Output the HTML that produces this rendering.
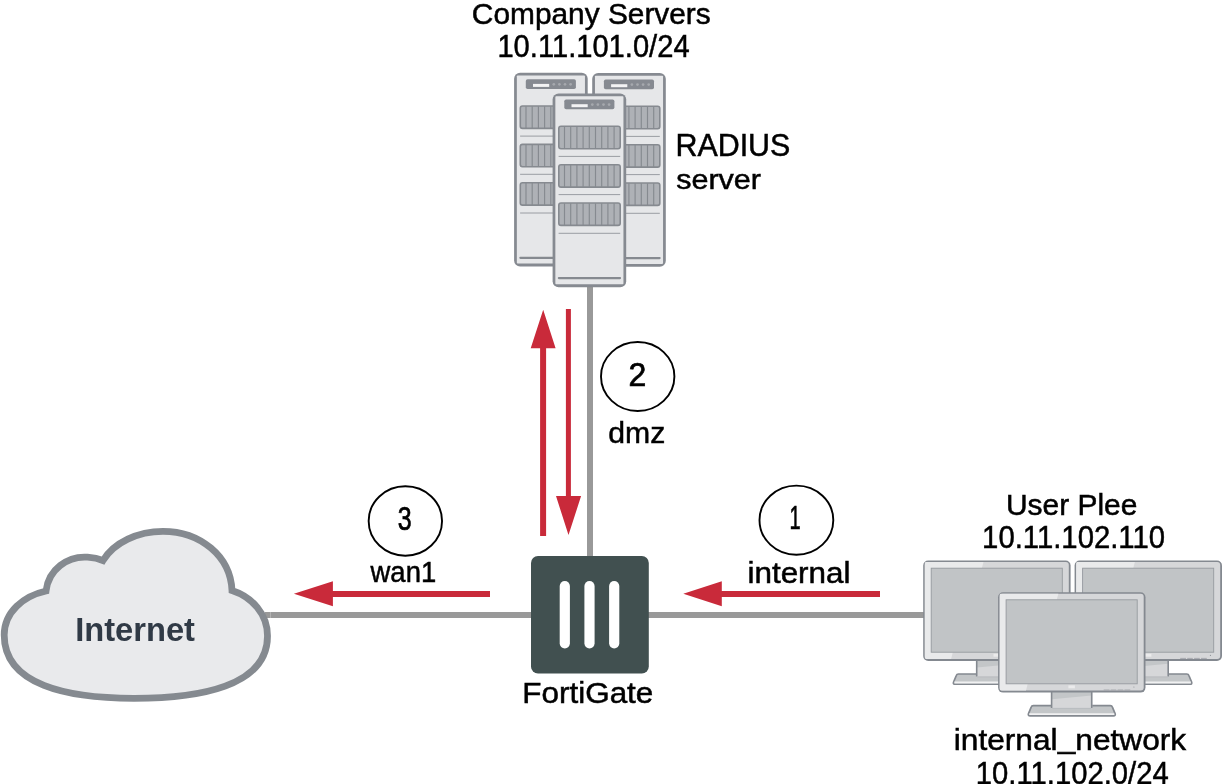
<!DOCTYPE html>
<html lang="en">
<head>
<meta charset="utf-8">
<title>FortiGate RADIUS network diagram</title>
<style>
html,body{margin:0;padding:0;background:#fff;overflow:hidden}
svg{display:block;will-change:transform}
text{font-family:"Liberation Sans",sans-serif;fill:#000}
.lbl{stroke:#000;stroke-width:0.5px}
.a{font-size:31px}
.b{font-size:29.2px}
.c{font-size:27.8px}
.n{font-size:32.6px;stroke-width:0.7px}
</style>
</head>
<body>
<svg width="1222" height="784" viewBox="0 0 1222 784">
<defs>
  <g id="bay">
    <rect x="0.8" y="0.8" width="61.4" height="22.4" rx="2.2" fill="#aeb1b6" stroke="#868a90" stroke-width="1.6"/>
    <path d="M6.5 1V23M12.7 1V23M18.9 1V23M25.1 1V23M31.3 1V23M37.5 1V23M43.7 1V23M49.9 1V23M56.1 1V23" stroke="#868a90" stroke-width="1.15" fill="none"/>
  </g>
  <g id="srvbox">
    <rect x="0" y="0" width="73.6" height="193.8" rx="6" fill="#868a91"/>
    <rect x="2.75" y="2.8" width="68.1" height="188.1" rx="0.8" fill="#e6e7e9"/>
  </g>
  <g id="server">
    <rect x="11.7" y="6.4" width="50.1" height="9.8" rx="1.8" fill="#868a91"/>
    <rect x="18.9" y="11.1" width="16.2" height="3" fill="#f3f3f4"/>
    <circle cx="39.7" cy="11.5" r="1.35" fill="#a6a9ae"/>
    <circle cx="45.3" cy="11.5" r="1.35" fill="#a6a9ae"/>
    <circle cx="50.9" cy="11.5" r="1.35" fill="#a6a9ae"/>
    <circle cx="56.5" cy="11.5" r="1.35" fill="#a6a9ae"/>
    <use href="#bay" x="5.4" y="32.4"/>
    <use href="#bay" x="5.4" y="70.8"/>
    <use href="#bay" x="5.4" y="109.1"/>
    <path d="M6 63.3H67.6M6 101.5H67.6M6 140.2H67.6" stroke="#868a90" stroke-width="0.8" fill="none"/>
    <path d="M6.3 185H67.4" stroke="#868a90" stroke-width="2.3" stroke-linecap="round" fill="none"/>
  </g>
  <g id="monitor">
    <path d="M35.2 113.4H112.2Q113.8 113.4 114.3 114.9L117 121.4Q117.8 123.6 115.4 123.6H32Q29.6 123.6 30.4 121.4L33.1 114.9Q33.6 113.4 35.2 113.4Z" fill="#c3c6c8" stroke="#848990" stroke-width="1.7"/>
    <path d="M31.2 121H116.2V122.8H31.2Z" fill="#f1f1f2"/>
    <path d="M53.1 99.5H94.2V115Q94.2 116.4 92.8 116.4H54.5Q53.1 116.4 53.1 115Z" fill="#d6d7d9"/>
    <path d="M53.7 99.8H93.5V103.2L53.7 107Z" fill="#c3c6c8"/>
    <path d="M53.5 99.5V115.9M93.6 99.5V115.9" stroke="#848990" stroke-width="1.6" fill="none"/>
    <path d="M54 116.2H93.2" stroke="#b4b7ba" stroke-width="0.8" fill="none"/>
    <rect x="0" y="0" width="147.4" height="100.4" rx="5" fill="#848990"/>
    <rect x="1.6" y="1.5" width="144" height="96.8" rx="3" fill="#d6d7d9"/>
    <path d="M3 1.5H60.3L58.6 7.6H8V91.6H29.6L27.9 98.3H3Q1.6 98.3 1.6 96.9V2.9Q1.6 1.5 3 1.5Z" fill="#e9eaeb"/>
    <rect x="8" y="7.6" width="131.1" height="84" fill="#c1c4c6" stroke="#969a9f" stroke-width="0.9"/>
    <rect x="70.3" y="93.2" width="6.5" height="2.9" fill="#ebebec"/>
    <path d="M105.6 97.8H111.4M112.6 97.8H118.2M119.5 97.8H125.2M126.4 97.8H132.2" stroke="#a0a3a8" stroke-width="0.9" fill="none"/>
    <circle cx="135.8" cy="94.8" r="0.55" fill="#8d9196"/>
  </g>
</defs>

<!-- connection lines -->
<path d="M590 280V560" stroke="#999" stroke-width="6" fill="none"/>
<path d="M265 615H930" stroke="#999" stroke-width="5.8" fill="none"/>
<rect x="270.1" y="612" width="0.6" height="6" fill="#c6c6c6"/>

<!-- company servers -->
<use href="#srvbox" x="514.1" y="72.7"/>
<use href="#server" x="514.1" y="72.8"/>
<use href="#srvbox" x="592.2" y="73"/>
<use href="#server" x="592.2" y="73.1"/>
<use href="#srvbox" x="552.6" y="93.4"/>
<use href="#server" x="552.6" y="93.1"/>

<!-- traffic arrows -->
<g fill="#c92a3a">
  <path d="M540.1 536V348.2H530.7L543.2 309.8L555.6 348.2H546.1V536Z"/>
  <path d="M565.9 309H570.9V496H581.1L568.5 535.1L556 496H565.9Z"/>
  <path d="M490 591V596.9H332.9V606.2L293.9 593.8L332.9 581.3V591Z"/>
  <path d="M880 591V596.9H721.8V606.2L683.3 593.8L721.8 581.3V591Z"/>
</g>

<!-- FortiGate unit -->
<rect x="531" y="556" width="117.8" height="117.6" rx="7" fill="#415050"/>
<g fill="#fff">
  <rect x="559.7" y="580.9" width="10.2" height="67.5" rx="5.1"/>
  <rect x="584.4" y="580.9" width="10.2" height="67.5" rx="5.1"/>
  <rect x="609.1" y="580.9" width="10.2" height="67.5" rx="5.1"/>
</g>

<!-- Internet cloud -->
<path d="M46 591C48.5 569.5 67.5 555.8 87.5 557.2Q96.5 557.8 103 560.5C114 542.3 138 531.3 163 531.3C200 531.3 230.5 556 232 590.5C252 597 267.5 614 267.5 636C267.5 686.5 199 698.3 134 698.3C67 698.3 4.2 685 4.2 635C4.2 612 23.5 596 46 591Z" fill="#e9eaec" stroke="#858a90" stroke-width="6.8" stroke-linejoin="miter" stroke-miterlimit="6"/>
<text x="75.2" y="640.6" style="font-weight:bold;font-size:32.8px;fill:#303a46" textLength="119.8" lengthAdjust="spacingAndGlyphs">Internet</text>

<!-- user workstations -->
<use href="#monitor" x="923.2" y="560.6"/>
<use href="#monitor" x="1074.6" y="560.6"/>
<use href="#monitor" x="998.1" y="592.2"/>

<!-- step bubbles -->
<g fill="#fff" stroke="#000" stroke-width="1.9">
  <ellipse cx="637.7" cy="376.5" rx="36.7" ry="34.5"/>
  <ellipse cx="405.35" cy="521" rx="36.7" ry="34.7"/>
  <ellipse cx="796.4" cy="520.15" rx="36.9" ry="34.55"/>
</g>

<!-- labels -->
<g class="lbl">
  <text class="b" x="471.89" y="24.0" textLength="238.87" lengthAdjust="spacingAndGlyphs">Company Servers</text>
  <text class="a" x="497.42" y="57.0" textLength="192.19" lengthAdjust="spacingAndGlyphs">10.11.101.0/24</text>
  <text class="a" x="675.49" y="156.0" textLength="114.80" lengthAdjust="spacingAndGlyphs">RADIUS</text>
  <text class="c" x="676.19" y="189.0" textLength="84.76" lengthAdjust="spacingAndGlyphs">server</text>
  <text class="n" x="628.40" y="385.8" textLength="17.80" lengthAdjust="spacingAndGlyphs">2</text>
  <text class="b" x="608.32" y="442.9" textLength="57.02" lengthAdjust="spacingAndGlyphs">dmz</text>
  <text class="n" x="397.77" y="530.3" textLength="13.92" lengthAdjust="spacingAndGlyphs">3</text>
  <text class="b" x="370.55" y="582.2" textLength="65.61" lengthAdjust="spacingAndGlyphs">wan1</text>
  <text class="n" x="789.46" y="529.1" textLength="11.12" lengthAdjust="spacingAndGlyphs">1</text>
  <text class="b" x="747.48" y="582.7" textLength="103.01" lengthAdjust="spacingAndGlyphs">internal</text>
  <text class="b" x="522.34" y="703.4" textLength="130.99" lengthAdjust="spacingAndGlyphs">FortiGate</text>
  <text class="b" x="1005.95" y="514.8" textLength="131.43" lengthAdjust="spacingAndGlyphs">User Plee</text>
  <text class="a" x="982.12" y="548.1" textLength="182.96" lengthAdjust="spacingAndGlyphs">10.11.102.110</text>
  <text class="b" x="953.74" y="750.4" dy="0 0 0 0 0 0 0 0 -2.7 2.7" textLength="232.46" lengthAdjust="spacingAndGlyphs">internal_network</text>
  <text class="a" x="975.83" y="783.6" textLength="192.83" lengthAdjust="spacingAndGlyphs">10.11.102.0/24</text>
</g>
</svg>
</body>
</html>
